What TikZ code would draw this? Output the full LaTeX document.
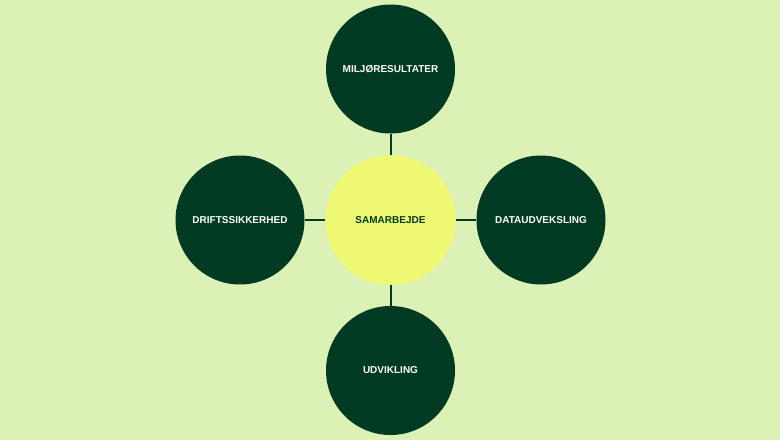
\documentclass[tikz,border=0pt]{standalone}
\usepackage{fontspec}
\setmainfont{Liberation Sans}
\definecolor{bg}{HTML}{DCF1B5}
\definecolor{dark}{HTML}{003A22}
\definecolor{yel}{HTML}{EEF873}
\begin{document}
\begin{tikzpicture}[x=1pt,y=-1pt,
  outer/.style={circle,fill=dark,minimum size=129pt,inner sep=0pt,text=white,font=\fontsize{10}{12}\selectfont\bfseries},
  inner/.style={circle,fill=yel,minimum size=130pt,inner sep=0pt,text=dark,font=\fontsize{10}{12}\selectfont\bfseries},
  link/.style={draw=dark,line width=2pt}]
\fill[bg] (0,0) rectangle (780,440);
\useasboundingbox (0,0) rectangle (780,440);
\node[inner] (c) at (390.5,220) {SAMARBEJDE};
\node[outer] (t) at (390.5,69) {MILJØRESULTATER};
\node[outer] (l) at (240,220) {DRIFTSSIKKERHED};
\node[outer] (r) at (541,220) {DATAUDVEKSLING};
\node[outer] (b) at (390.5,370.5) {UDVIKLING};
\draw[link] (c) -- (t);
\draw[link] (c) -- (l);
\draw[link] (c) -- (r);
\draw[link] (c) -- (b);
\end{tikzpicture}
\end{document}
